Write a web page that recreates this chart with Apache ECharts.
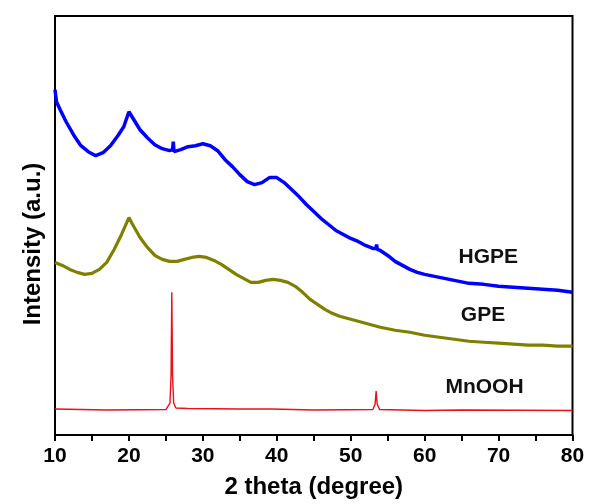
<!DOCTYPE html>
<html>
<head>
<meta charset="utf-8">
<script src="https://cdn.jsdelivr.net/npm/echarts@6/dist/echarts.min.js"></script>
<style>html,body{margin:0;padding:0;background:#fff}#c{width:589px;height:504px}</style>
</head>
<body>
<div id="c"></div>
<script>
// 2 theta (degree) values and intensities (a.u.)
var hgpeX = [10.0,10.2,10.7,11.5,12.5,13.5,14.5,15.5,16.5,17.5,18.5,19.3,20.0,20.5,21.5,22.5,23.5,24.5,25.5,25.9,26.0,26.1,27,28,29,30,31,32,33,34,35,36,37,38,39,40,41,42,43,44,45,46,47,48,49,50,51,52,53,53.4,53.5,53.6,54,55,56,57,58,59,60,62,64,66,68,70,72,74,76,78,80];
var hgpeY = [346,334,326,314,301,290,284,280,283,290,300,309,324,318,306,298,291,287,285,286,294,284,286,289,290,292,290,285,276,269,261,254,251,253,258,258,253,246,239,231,224,217,211,205,201,197,194,190,187,187,191,186,185,180,174,170,166,163,161,158,155,152,151,149,148,147,146,145,143];

var gpeX = [10,11,12,13,14,15,16,17,18,19,20,20.5,21.5,22.5,23.5,24.5,25.5,26.5,27.5,28.5,29.5,30.5,31.5,32.5,33.5,34.5,35.5,36.5,37.5,38.5,39.5,40.5,41.5,42.5,43.5,44.5,45.5,46.5,47.5,48.5,50,52,54,56,58,60,62,64,66,68,70,72,74,76,78,80];
var gpeY = [173,170,166,163,161,162,166,173,186,201,218,211,198,188,180,176,174,174,176,178,179,178,175,171,166,161,157,153,153,155,156,155,153,149,143,136,131,126,122,119,116,112,108,105,103,100,98,96,94,93,92,91,90,90,89,89];

var mnoohX = [10,17,25,25.25,25.55,25.7,25.8,25.9,26.05,26.35,28,35,39.2,39.3,39.4,45,53.0,53.3,53.44,53.58,53.9,60,65,80];
var mnoohY = [26,25,25.5,27,32,60,143,60,32,27,26.5,26,26,27.5,26,25,25.5,31,44,31,25.5,24.5,25,24.5];

var seriesNames = ['HGPE','GPE','MnOOH'];
var seriesColors = ['#0000ff','#808000','#e8101a'];
// label anchor points in data units [2theta, intensity]
var labelAt = [[68.6,178],[67.9,120],[68.1,48]];
var xTicks = [10,20,30,40,50,60,70,80];

function pairs(xs, ys){ return xs.map(function(x,i){return [x, ys[i]];}); }

var FONT = 'Arial, "Liberation Sans", sans-serif';
var chart = echarts.init(document.getElementById('c'), null, {renderer:'canvas'});

var datasets = [pairs(hgpeX,hgpeY), pairs(gpeX,gpeY), pairs(mnoohX,mnoohY)];
var widths = [3.5, 3.2, 1.4];

var series = datasets.map(function(d, i){
  return {
    type:'line', name: seriesNames[i], data: d, showSymbol:false, symbol:'none',
    lineStyle:{color: seriesColors[i], width: widths[i]},
    itemStyle:{color: seriesColors[i]},
    silent:true, animation:false,
    markPoint:{
      symbol:'circle', symbolSize:0, silent:true, animation:false,
      data:[{coord: labelAt[i], value: seriesNames[i]}],
      label:{show:true, position:'inside', formatter: seriesNames[i], color:'#111', fontSize:21, fontWeight:'bold', fontFamily:FONT}
    }
  };
});

chart.setOption({
  backgroundColor:'#ffffff',
  animation:false,
  grid:{left:55, right:16.5, top:16, bottom:68, show:true, borderColor:'#000', borderWidth:2, backgroundColor:'transparent'},
  xAxis:{
    type:'value', min:10, max:80, interval:10,
    name:'2 theta (degree)', nameLocation:'middle', nameGap:40,
    nameTextStyle:{fontSize:24, fontWeight:'bold', color:'#000', fontFamily:FONT},
    axisLine:{show:true, lineStyle:{color:'#000', width:2}},
    axisTick:{show:true, inside:false, length:6, lineStyle:{color:'#000', width:2}},
    minorTick:{show:true, splitNumber:2, length:6, lineStyle:{color:'#000', width:2}},
    splitLine:{show:false}, minorSplitLine:{show:false},
    axisLabel:{fontSize:21, fontWeight:'bold', color:'#000', fontFamily:FONT, margin:11,
      formatter:function(v){ return xTicks.indexOf(v) >= 0 ? String(v) : ''; }}
  },
  yAxis:{
    type:'value', min:0, max:420,
    axisLine:{show:true, lineStyle:{color:'#000', width:2}},
    axisTick:{show:false}, axisLabel:{show:false}, splitLine:{show:false}
  },
  graphic:[{
    type:'text', x:33, y:244, rotation:Math.PI/2,
    style:{text:'Intensity (a.u.)', x:0, y:0, textAlign:'center', textVerticalAlign:'middle',
      font:'bold 24px ' + FONT, fill:'#000'}
  }],
  series: series
});
</script>
</body>
</html>
